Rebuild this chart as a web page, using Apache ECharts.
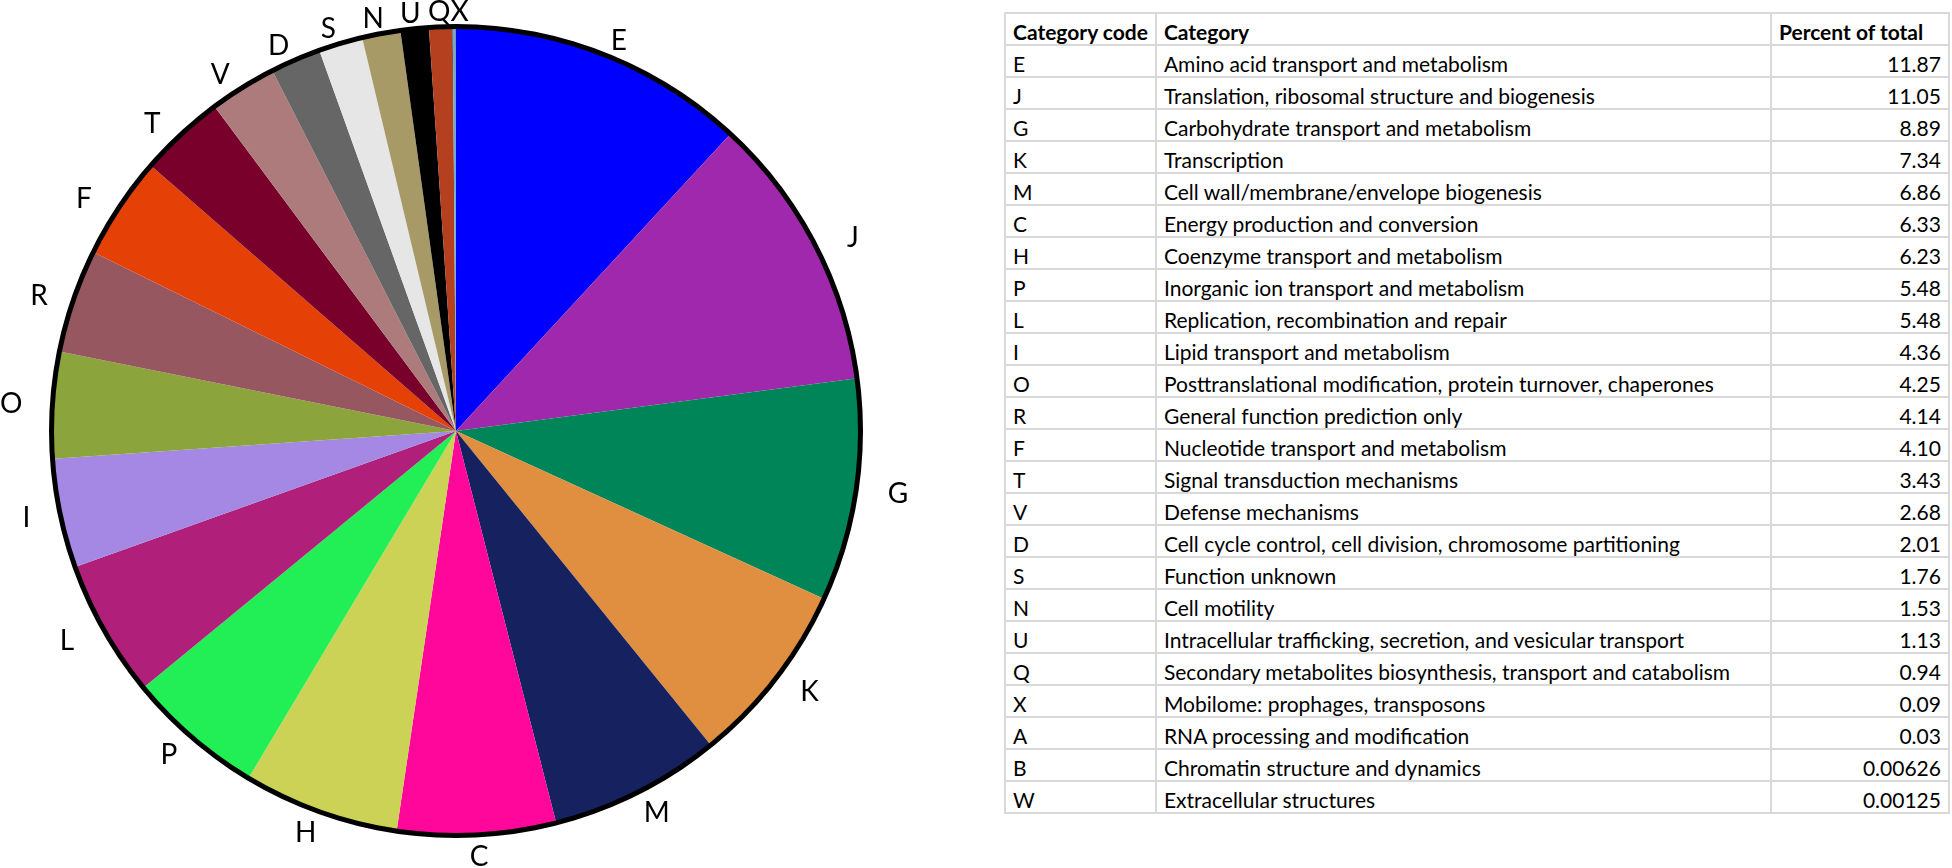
<!DOCTYPE html>
<html>
<head>
<meta charset="utf-8">
<title>COG categories</title>
<script src="https://cdn.jsdelivr.net/npm/echarts@6/dist/echarts.min.js"></script>
<style>
    body { margin: 0; background: #fff; }
    #pie { position: absolute; left: 0; top: 0; width: 1000px; height: 868px; }
    #tbl {
        position: absolute; left: 1004px; top: 12px;
        border-collapse: collapse; table-layout: fixed;
        font-family: Lato, "Open Sans", sans-serif; font-size: 21px; color: #000;
    }
    #tbl td {
        border: 2px solid #d9d9d9; height: 29px; line-height: 22px; padding: 0 7px 1px 7px;
        vertical-align: bottom; white-space: nowrap; overflow: hidden;
    }
    #tbl tr:first-child td { font-weight: bold; }
    #tbl td.num { text-align: right; }
</style>
</head>
<body>
<div id="pie"></div>
<table id="tbl">
    <colgroup><col style="width:146px"><col style="width:615px"><col style="width:178px"></colgroup>
    <tbody id="tbody"></tbody>
</table>

<script type="text/javascript">
    // table / pie data
    var codes = ['E', 'J', 'G', 'K', 'M', 'C', 'H', 'P', 'L', 'I', 'O', 'R', 'F', 'T', 'V', 'D', 'S', 'N', 'U', 'Q', 'X', 'A', 'B', 'W'];
    var categories = [
        'Amino acid transport and metabolism',
        'Translation, ribosomal structure and biogenesis',
        'Carbohydrate transport and metabolism',
        'Transcription',
        'Cell wall/membrane/envelope biogenesis',
        'Energy production and conversion',
        'Coenzyme transport and metabolism',
        'Inorganic ion transport and metabolism',
        'Replication, recombination and repair',
        'Lipid transport and metabolism',
        'Posttranslational modification, protein turnover, chaperones',
        'General function prediction only',
        'Nucleotide transport and metabolism',
        'Signal transduction mechanisms',
        'Defense mechanisms',
        'Cell cycle control, cell division, chromosome partitioning',
        'Function unknown',
        'Cell motility',
        'Intracellular trafficking, secretion, and vesicular transport',
        'Secondary metabolites biosynthesis, transport and catabolism',
        'Mobilome: prophages, transposons',
        'RNA processing and modification',
        'Chromatin structure and dynamics',
        'Extracellular structures'
    ];
    var percents = [11.87, 11.05, 8.89, 7.34, 6.86, 6.33, 6.23, 5.48, 5.48, 4.36, 4.25, 4.14, 4.10, 3.43, 2.68, 2.01, 1.76, 1.53, 1.13, 0.94, 0.09, 0.03, 0.00626, 0.00125];
    // codes without a label on the pie
    var unlabeled = ['A', 'B', 'W'];

    var sliceColors = ['#0000ff', '#a028ac', '#008558', '#e08f40', '#16215f', '#ff079a', '#cbd255', '#22ee55',
        '#b01f7a', '#a488e3', '#8ca43c', '#975761', '#e54106', '#78002a', '#ad7b7b', '#666666',
        '#e6e6e6', '#a89a66', '#000000', '#b4401f', '#4fb4e8', '#7f7f7f', '#444444', '#999999'];

    var CX = 456, CY = 431;

    function fmt(v) {
        return v < 0.01 ? String(v) : v.toFixed(2);
    }

    // table
    var tb = document.getElementById('tbody');
    var html = '<tr><td>Category code</td><td>Category</td><td>Percent of total</td></tr>';
    for (var i = 0; i < codes.length; i++) {
        html += '<tr><td>' + codes[i] + '</td><td>' + categories[i] + '</td><td class="num">' + fmt(percents[i]) + '</td></tr>';
    }
    tb.innerHTML = html;

    // pie
    var myChart = echarts.init(document.getElementById('pie'));
    var pieData = [];
    for (var j = 0; j < codes.length; j++) {
        pieData.push({ name: codes[j], value: percents[j] });
    }

    var option = {
        animation: false,
        color: sliceColors,
        series: [
            {
                type: 'pie',
                center: [CX, CY],
                radius: [0, 403],
                startAngle: 90,
                clockwise: true,
                silent: true,
                label: { show: false },
                labelLine: { show: false },
                itemStyle: { borderWidth: 0 },
                data: pieData
            },
            {
                // black rim
                type: 'pie',
                center: [CX, CY],
                radius: [402, 407],
                silent: true,
                label: { show: false },
                labelLine: { show: false },
                itemStyle: { color: '#000' },
                data: [{ name: 'rim', value: 1 }]
            },
            {
                // invisible ring that carries the letters just outside the rim
                type: 'pie',
                center: [CX, CY],
                radius: [404, 428],
                startAngle: 90,
                clockwise: true,
                silent: true,
                itemStyle: { color: 'rgba(0,0,0,0)' },
                label: {
                    show: true,
                    position: 'inside',
                    color: '#000',
                    fontFamily: 'Lato',
                    fontSize: 28,
                    formatter: function (p) {
                        return unlabeled.indexOf(p.name) >= 0 ? '' : p.name;
                    }
                },
                labelLine: { show: false },
                // push side labels a little further out, separate the crowded top ones
                labelLayout: function (p) {
                    var r = p.labelRect;
                    var ox = r.x + r.width / 2 - CX, oy = r.y + r.height / 2 - CY;
                    var d = Math.sqrt(ox * ox + oy * oy) || 1;
                    return {
                        dx: ox / d * 28,
                        dy: oy > 0 ? oy / d * 8 : 0,
                        moveOverlap: 'shiftX'
                    };
                },
                data: pieData
            }
        ]
    };
    myChart.setOption(option);
</script>
</body>
</html>
